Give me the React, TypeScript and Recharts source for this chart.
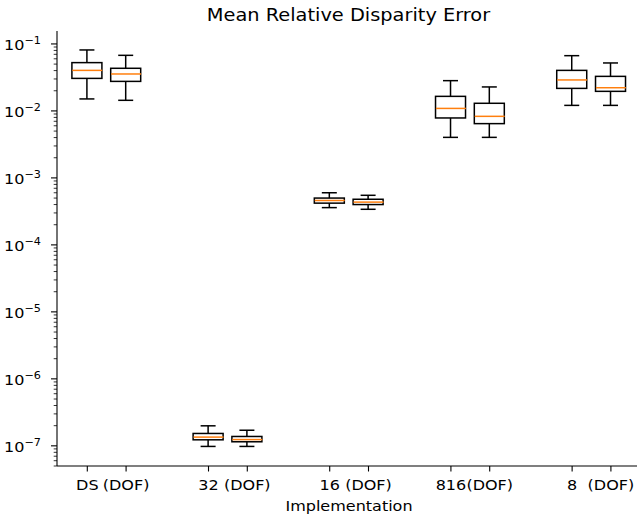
import { ComposedChart, Bar, Scatter, XAxis, YAxis } from 'recharts';

const LABELS = ['DS', '(DOF)', '32', '(DOF)', '16', '(DOF)', '816', '(DOF)', '8', '(DOF)'];
const POSITIONS = [1, 1.32, 2, 2.32, 3, 3.32, 4, 4.32, 5, 5.32];

const MINS = [0.0151, 0.0144, 9.8e-8, 9.8e-8, 3.6e-4, 3.4e-4, 0.00403, 0.00403, 0.0121, 0.0121];
const Q1 = [0.0306, 0.0276, 1.23e-7, 1.15e-7, 4.2e-4, 4.0e-4, 0.00785, 0.00646, 0.0217, 0.0196];
const MEDIANS = [0.0403, 0.0356, 1.35e-7, 1.24e-7, 4.6e-4, 4.35e-4, 0.0109, 0.0083, 0.029, 0.0222];
const Q3 = [0.0526, 0.0433, 1.53e-7, 1.38e-7, 5.0e-4, 4.8e-4, 0.0165, 0.013, 0.0403, 0.0328];
const MAXS = [0.0813, 0.0676, 1.99e-7, 1.71e-7, 6.0e-4, 5.5e-4, 0.0283, 0.0228, 0.0668, 0.052];

const MAJOR_TICKS = [1e-7, 1e-6, 1e-5, 1e-4, 1e-3, 1e-2, 1e-1];
const MAJOR_EXPONENTS = [-7, -6, -5, -4, -3, -2, -1];

const TITLE = 'Mean Relative Disparity Error';
const X_LABEL = 'Implementation';

const Y_DOMAIN = [5.0e-8, 0.156];
const X_DOMAIN = [0.75, 5.56];
const FONT = '"DejaVu Sans", sans-serif';
const BOX_W = 30;
const SX = 1.09; // the picture is a bit wider than tall, text too

const minorTicks: number[] = [];
[1e-8, ...MAJOR_TICKS].forEach((m) => {
  for (let k = 2; k <= 9; k++) {
    const v = m * k;
    if (v >= Y_DOMAIN[0] && v <= Y_DOMAIN[1]) minorTicks.push(v);
  }
});
const allYTicks = [...MAJOR_TICKS, ...minorTicks].sort((a, b) => a - b);

const data = POSITIONS.map((pos, i) => ({
  pos,
  label: LABELS[i],
  whisker: [MINS[i], MAXS[i]],
  box: [Q1[i], Q3[i]],
  med: MEDIANS[i],
}));

function WhiskerShape(props: any) {
  const { x, y, width, height } = props;
  const cx = x + width / 2;
  const cap = width / 4;
  return (
    <g stroke="#000" strokeWidth={1.5} fill="none">
      <line x1={cx} x2={cx} y1={y} y2={y + height} />
      <line x1={cx - cap} x2={cx + cap} y1={y} y2={y} />
      <line x1={cx - cap} x2={cx + cap} y1={y + height} y2={y + height} />
    </g>
  );
}

function BoxShape(props: any) {
  const { x, y, width, height } = props;
  return <rect x={x} y={y} width={width} height={height} fill="#fff" stroke="#000" strokeWidth={1.5} />;
}

function MedianShape(props: any) {
  const { cx, cy } = props;
  return <line x1={cx - BOX_W / 2} x2={cx + BOX_W / 2} y1={cy} y2={cy} stroke="#ff7f0e" strokeWidth={1.5} />;
}

function YTick(props: any) {
  const { x, y, payload } = props;
  const v = payload.value;
  const idx = MAJOR_TICKS.findIndex((m) => Math.abs(Math.log10(m) - Math.log10(v)) < 1e-6);
  if (idx < 0) {
    return <line x1={x - 3.3} x2={x} y1={y} y2={y} stroke="#000" strokeWidth={0.8} />;
  }
  return (
    <g>
      <line x1={x - 6} x2={x} y1={y} y2={y} stroke="#000" strokeWidth={1.1} />
      <text
        transform={`translate(${x - 16},${y + 6.4}) scale(${SX},1)`}
        textAnchor="end"
        fontFamily={FONT}
        fontSize={14.7}
        fill="#000"
      >
        10
        <tspan fontSize={10.3} dy={-6}>
          {'\u2212' + Math.abs(MAJOR_EXPONENTS[idx])}
        </tspan>
      </text>
    </g>
  );
}

function XTick(props: any) {
  const { x, y, payload } = props;
  const i = POSITIONS.indexOf(payload.value);
  return (
    <g>
      <line x1={x} x2={x} y1={y} y2={y + 5.5} stroke="#000" strokeWidth={1.1} />
      <text
        transform={`translate(${x},${y + 23.7}) scale(${SX},1)`}
        textAnchor="middle"
        fontFamily={FONT}
        fontSize={14.7}
        fill="#000"
      >
        {LABELS[i]}
      </text>
    </g>
  );
}

export default function App() {
  return (
    <div style={{ position: 'absolute', left: 0, top: 0, width: 637, height: 518, overflow: 'hidden', background: '#fff' }}>
      <ComposedChart width={660} height={518} data={data} margin={{ top: 31, right: 0, bottom: 0, left: 0 }}>
        <XAxis xAxisId="w" dataKey="pos" type="number" domain={X_DOMAIN} allowDataOverflow hide height={0} />
        <XAxis xAxisId="b" dataKey="pos" type="number" domain={X_DOMAIN} allowDataOverflow hide height={0} />
        <XAxis
          xAxisId="x"
          dataKey="pos"
          type="number"
          domain={X_DOMAIN}
          ticks={POSITIONS}
          allowDataOverflow
          height={52}
          tickSize={0}
          tickMargin={0}
          tickLine={false}
          tick={<XTick />}
          axisLine={{ stroke: '#000', strokeWidth: 1.1 }}
        />
        <XAxis
          xAxisId="top"
          orientation="top"
          dataKey="pos"
          type="number"
          domain={X_DOMAIN}
          allowDataOverflow
          height={0}
          tick={false}
          tickLine={false}
          axisLine={{ stroke: '#000', strokeWidth: 1.1 }}
        />
        <YAxis
          yAxisId="y"
          scale="log"
          type="number"
          domain={Y_DOMAIN}
          allowDataOverflow
          ticks={allYTicks}
          interval={0}
          width={57}
          tickSize={0}
          tickMargin={0}
          tickLine={false}
          tick={<YTick />}
          axisLine={{ stroke: '#000', strokeWidth: 1.1 }}
        />
        <YAxis
          yAxisId="r"
          orientation="right"
          scale="log"
          type="number"
          domain={Y_DOMAIN}
          allowDataOverflow
          width={20}
          tick={false}
          tickLine={false}
          axisLine={{ stroke: '#000', strokeWidth: 1.1 }}
        />
        <Bar xAxisId="w" yAxisId="y" dataKey="whisker" barSize={BOX_W} shape={<WhiskerShape />} isAnimationActive={false} />
        <Bar xAxisId="b" yAxisId="y" dataKey="box" barSize={BOX_W} shape={<BoxShape />} isAnimationActive={false} />
        <Scatter xAxisId="x" yAxisId="y" dataKey="med" shape={<MedianShape />} isAnimationActive={false} />
      </ComposedChart>
      <svg width={637} height={518} style={{ position: 'absolute', left: 0, top: 0, pointerEvents: 'none' }}>
        <text transform={`translate(348.5,21) scale(1.1,1)`} textAnchor="middle" fontFamily={FONT} fontSize={17.6} fill="#000">
          {TITLE}
        </text>
        <text transform={`translate(349,511.4) scale(${SX},1)`} textAnchor="middle" fontFamily={FONT} fontSize={14.7} fill="#000">
          {X_LABEL}
        </text>
      </svg>
    </div>
  );
}
